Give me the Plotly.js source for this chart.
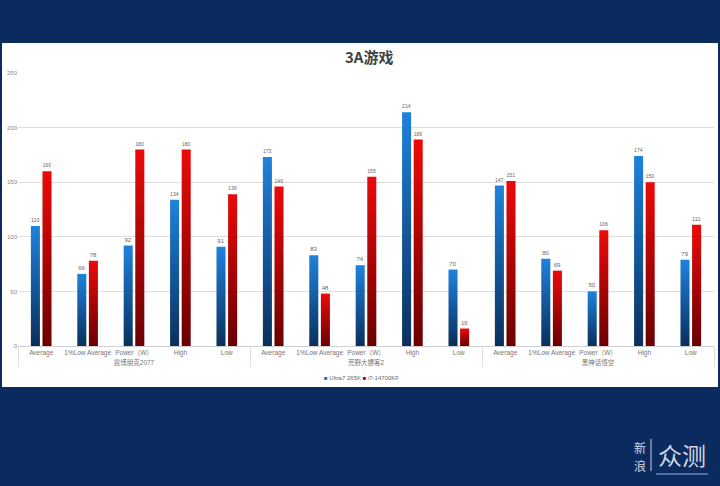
<!DOCTYPE html>
<html><head><meta charset="utf-8">
<script src="https://cdn.plot.ly/plotly-3.0.1.min.js"></script>
<style>html,body{margin:0;padding:0;background:#0b2a5e;}#c{width:720px;height:486px;}</style>
</head><body><div id="c"></div>
<script>
const games = ["赛博朋克2077","赛博朋克2077","赛博朋克2077","赛博朋克2077","赛博朋克2077",
               "荒野大镖客2","荒野大镖客2","荒野大镖客2","荒野大镖客2","荒野大镖客2",
               "黑神话悟空","黑神话悟空","黑神话悟空","黑神话悟空","黑神话悟空"];
const metrics = ["Average","1%Low Average","Power（W）","High","Low",
                 "Average","1%Low Average","Power（W）","High","Low",
                 "Average","1%Low Average","Power（W）","High","Low"];
const ultra7 = [110,66,92,134,91, 173,83,74,214,70, 147,80,50,174,79];
const i7 = [160,78,180,180,139, 146,48,155,189,16, 151,69,106,150,111];
const seriesNames = ["Ultra7 265K","i7-14700KF"];
const seriesColors = ["#1a6fc0","#c00000"];

const L=18, R=714, T=73, B=346;
const px = x => (x-L)/(R-L);
const py = y => (B-y)/(B-T);

const font = "'Liberation Sans', 'Noto Sans CJK SC', sans-serif";
const cjk = "'Noto Sans CJK SC', sans-serif";
const traces = [ultra7, i7].map((vals,i) => ({
  type:'bar', name:seriesNames[i], x:[games,metrics], y:vals, marker:{color:seriesColors[i]},
  text:vals.map(String), textposition:'outside', cliponaxis:false,
  textfont:{size:6, color:'#666', family:font}, hoverinfo:'none'
}));
const ann = (text,x,y,size,color,fam,xa) => ({text, xref:'paper', yref:'paper', x:px(x), y:py(y),
  xanchor:xa||'center', yanchor:'middle', showarrow:false, borderpad:0, font:{size, color, family:fam}});
const legendText = seriesNames.map((n,i) =>
  '<span style="color:'+seriesColors[i]+'">■</span> '+n).join(' ');
const layout = {
  width:720, height:486,
  paper_bgcolor:'#0b2a5e', plot_bgcolor:'rgba(0,0,0,0)',
  margin:{l:L, r:720-R, t:T, b:486-B},
  barmode:'group', bargap:0.5, bargroupgap:0.22,
  showlegend:false,
  xaxis:{type:'multicategory', tickfont:{size:6.5, color:'#777', family:font}, tickangle:0,
         showline:true, linecolor:'#d0d0d0', linewidth:1, ticks:'', showgrid:false,
         showdividers:true, dividercolor:'#dcdcdc', dividerwidth:1, fixedrange:true},
  yaxis:{range:[0,250], dtick:50, tickfont:{size:6, color:'#888', family:font},
         gridcolor:'#dedede', gridwidth:1, zeroline:false, showline:false, ticks:'', fixedrange:true},
  shapes:[
    {type:'rect', xref:'paper', yref:'paper', x0:px(2), x1:px(718), y0:py(387), y1:py(43),
     fillcolor:'#ffffff', line:{width:0}, layer:'below'},
    {type:'line', xref:'paper', yref:'paper', x0:px(651), x1:px(651), y0:py(471), y1:py(439),
     line:{color:'#c5cede', width:1}},
    {type:'line', xref:'paper', yref:'paper', x0:px(656), x1:px(708), y0:py(474), y1:py(474),
     line:{color:'#4e6fa6', width:2}}
  ],
  annotations:[
    ann('<b>3A游戏</b>', 369, 56, 15, '#404040', cjk),
    ann(legendText, 361, 378, 6, '#666', font),
    ann('新', 640, 447, 12, '#d0d7e3', cjk),
    ann('浪', 640, 465, 12, '#d0d7e3', cjk),
    ann('众测', 682, 454, 24, '#d0d7e3', cjk)
  ]
};
Plotly.newPlot('c', traces, layout, {staticPlot:true, displayModeBar:false}).then(gd => {
  const svg = gd.querySelector('.main-svg');
  const ns = 'http://www.w3.org/2000/svg';
  let defs = svg.querySelector('defs');
  if(!defs){ defs = document.createElementNS(ns,'defs'); svg.insertBefore(defs, svg.firstChild); }
  [['gBlue','#1f82dc','#0a2f5c'],['gRed','#ec0a0a','#6a0000']].forEach(([id,c1,c2]) => {
    const g = document.createElementNS(ns,'linearGradient');
    g.setAttribute('id',id); g.setAttribute('x1','0'); g.setAttribute('y1','0');
    g.setAttribute('x2','0'); g.setAttribute('y2','1');
    const s0 = document.createElementNS(ns,'stop'); s0.setAttribute('offset','0'); s0.setAttribute('stop-color',c1);
    const s1 = document.createElementNS(ns,'stop'); s1.setAttribute('offset','1'); s1.setAttribute('stop-color',c2);
    g.appendChild(s0); g.appendChild(s1);
    defs.appendChild(g);
  });
  gd.querySelectorAll('.barlayer .trace.bars').forEach((t,i) => {
    t.querySelectorAll('.point path').forEach(p => { p.style.fill = i===0 ? 'url(#gBlue)' : 'url(#gRed)'; });
  });
});
</script>
</body></html>
